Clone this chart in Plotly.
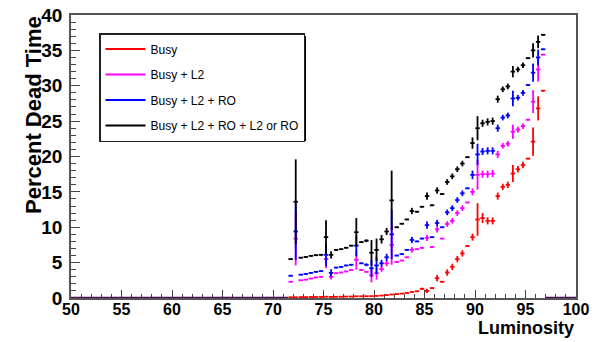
import plotly.graph_objects as go

# ---------------- data ----------------
lum = [71.75, 72.25, 72.75, 73.25, 73.75, 74.25, 74.75, 75.25, 75.75, 76.25,
       76.75, 77.25, 77.75, 78.25, 78.75, 79.25, 79.75, 80.25, 80.75, 81.25,
       81.75, 82.25, 82.75, 83.25, 83.75, 84.25, 84.75, 85.25, 85.75, 86.25,
       86.75, 87.25, 87.75, 88.25, 88.75, 89.25, 89.75, 90.25, 90.75, 91.25,
       91.75, 92.25, 92.75, 93.25, 93.75, 94.25, 94.75, 95.25, 95.75, 96.25,
       96.75]
bin_half_width = 0.25
hist_range = [50, 100]

busy = [0.10, 0.10, 0.12, 0.12, 0.14, 0.15, 0.15, 0.18, 0.16, 0.17,
        0.18, 0.20, 0.20, 0.24, 0.24, 0.25, 0.26, 0.30, 0.35, 0.42,
        0.50, 0.55, 0.62, 0.70, 0.85, 0.95, 1.3, 1.0, 1.4, 2.8,
        2.3, 3.6, 4.4, 5.5, 6.3, 7.35, 8.6, 11.1, 11.3, 10.9,
        10.9, 14.4, 15.7, 16.0, 17.6, 18.2, 18.8, 19.7, 22.1, 26.8,
        29.3]
busy_err = [0.05, 0.05, 0.05, 0.05, 0.05, 0.05, 0.05, 0.05, 0.05, 0.05,
            0.05, 0.05, 0.05, 0.05, 0.05, 0.05, 0.05, 0.05, 0.05, 0.05,
            0.05, 0.05, 0.05, 0.05, 0.05, 0.05, 0.15, 0.3, 0.1, 0.45,
            0.1, 0.45, 0.45, 0.45, 0.45, 0.1, 0.5, 2.3, 0.7, 0.5,
            0.5, 0.5, 0.45, 0.45, 1.2, 0.45, 0.45, 0.1, 2.0, 1.7,
            0.1]

busy_l2 = [2.3, 8.4, 2.5, 2.6, 2.75, 2.9, 3.0, 5.5, 3.0, 3.5,
           3.6, 3.75, 3.95, 5.4, 3.95, 3.7, 3.2, 3.5, 4.1, 4.9,
           7.5, 5.1, 5.3, 5.75, 6.8, 6.9, 7.1, 8.5, 7.2, 9.7,
           8.4, 10.46, 10.9, 12.0, 12.7, 13.5, 15.0, 17.4, 17.5, 17.5,
           17.6, 20.3, 21.5, 21.8, 23.5, 23.8, 24.3, 25.2, 27.75, 32.3,
           34.4]
busy_l2_err = [0.1, 3.8, 0.1, 0.1, 0.1, 0.1, 0.1, 1.3, 0.4, 0.1,
               0.1, 0.1, 0.1, 1.4, 0.1, 0.1, 1.0, 0.9, 0.4, 0.4,
               2.8, 0.1, 0.1, 0.1, 0.4, 0.1, 0.1, 0.45, 0.1, 0.45,
               0.1, 0.4, 0.4, 0.4, 0.4, 0.1, 0.5, 2.1, 0.5, 0.5,
               0.5, 0.5, 0.4, 0.4, 1.0, 0.4, 0.4, 0.1, 1.6, 1.7,
               0.1]

busy_l2_ro = [3.15, 9.4, 3.3, 3.4, 3.55, 3.7, 3.8, 6.1, 3.55, 4.3,
              4.4, 4.6, 4.7, 7.4, 4.9, 4.7, 4.2, 4.6, 4.9, 5.75,
              9.0, 6.0, 6.2, 6.8, 8.2, 8.0, 8.4, 10.3, 8.6, 10.6,
              10.0, 12.1, 12.7, 13.85, 14.8, 15.5, 17.4, 20.3, 20.7, 20.8,
              20.8, 24.0, 25.5, 25.8, 28.2, 28.3, 29.0, 30.1, 31.85, 34.0,
              35.15]
busy_l2_ro_err = [0.1, 4.0, 0.1, 0.1, 0.1, 0.1, 0.1, 1.6, 0.5, 0.1,
                  0.1, 0.1, 0.1, 1.5, 0.1, 0.2, 1.2, 1.2, 0.5, 0.5,
                  3.5, 0.1, 0.1, 0.1, 0.45, 0.1, 0.1, 0.5, 0.1, 0.45,
                  0.1, 0.4, 0.4, 0.4, 0.4, 0.1, 0.6, 1.5, 0.5, 0.5,
                  0.5, 0.5, 0.4, 0.4, 1.1, 0.4, 0.4, 0.1, 1.3, 1.1,
                  0.1]

busy_all = [5.5, 13.6, 5.7, 5.8, 5.95, 6.05, 6.1, 8.6, 6.1, 6.8,
            6.9, 7.1, 7.4, 9.3, 7.9, 8.1, 6.4, 6.8, 8.3, 9.4,
            13.8, 10.0, 10.5, 11.1, 12.3, 12.2, 12.9, 14.4, 13.1, 15.2,
            14.7, 16.4, 17.2, 18.2, 19.0, 19.9, 21.9, 24.0, 24.7, 24.9,
            25.0, 28.1, 29.5, 29.9, 32.0, 32.3, 32.9, 33.9, 35.0, 36.2,
            37.2]
busy_all_err = [0.1, 6.0, 0.1, 0.1, 0.1, 0.1, 0.1, 2.4, 0.5, 0.1,
                0.1, 0.1, 0.1, 2.0, 0.1, 0.2, 1.8, 1.6, 0.6, 0.5,
                4.2, 0.1, 0.1, 0.1, 0.45, 0.1, 0.1, 0.5, 0.1, 0.45,
                0.1, 0.4, 0.4, 0.4, 0.4, 0.1, 0.8, 1.7, 0.5, 0.5,
                0.5, 0.5, 0.4, 0.4, 0.8, 0.4, 0.4, 0.1, 1.0, 0.9,
                0.1]

series_names = ["Busy", "Busy + L2", "Busy + L2 + RO", "Busy + L2 + RO + L2 or RO"]
series_values = [busy, busy_l2, busy_l2_ro, busy_all]
series_errors = [busy_err, busy_l2_err, busy_l2_ro_err, busy_all_err]
series_colors = ["#ff0000", "#ff00ff", "#0000ff", "#000000"]

x_ticks = [50, 55, 60, 65, 70, 75, 80, 85, 90, 95, 100]
y_ticks = [0, 5, 10, 15, 20, 25, 30, 35, 40]

FONT = "Liberation Sans, Arial, sans-serif"

fig = go.Figure()

# empty histogram bins drawn at zero
lo_edge = lum[0] - bin_half_width
hi_edge = lum[-1] + bin_half_width
fig.add_trace(go.Scatter(
    x=[hist_range[0], lo_edge, None, hi_edge, hist_range[1]],
    y=[0, 0, None, 0, 0],
    mode="lines", line=dict(color="#4b0a55", width=2.5),
    showlegend=False, hoverinfo="skip"))

for name, vals, errs, col in zip(series_names, series_values, series_errors, series_colors):
    fig.add_trace(go.Scatter(
        x=lum, y=vals, mode="markers",
        marker=dict(size=1, color=col),
        error_x=dict(type="constant", value=bin_half_width - 0.03, color=col,
                     thickness=1.8, width=0),
        error_y=dict(type="data", array=errs, visible=True, color=col,
                     thickness=1.8, width=0),
        showlegend=False, name=name))

# legend entries
for i, (name, col) in enumerate(zip(series_names, series_colors)):
    fig.add_trace(go.Scatter(
        x=[None], y=[None], mode="lines", name=name,
        line=dict(color=col, width=2), legendgroup=f"g{i}", showlegend=True))

W, H = 600, 342
L, R, T, B = 71, 24, 15, 44
pw, ph = W - L - R, H - T - B


def px2paper_x(px):
    return (px - L) / pw


def px2paper_y(py):
    return (H - B - py) / ph


# legend shadow
fig.add_shape(type="rect", xref="paper", yref="paper",
              x0=px2paper_x(103), x1=px2paper_x(306),
              y0=px2paper_y(141), y1=px2paper_y(36),
              fillcolor="black", line=dict(width=0), layer="above")

fig.update_layout(
    template="none",
    width=W, height=H,
    margin=dict(l=L, r=R, t=T, b=B, pad=0, autoexpand=False),
    paper_bgcolor="white", plot_bgcolor="white",
    font=dict(family=FONT, color="black"),
    showlegend=True,
    legend=dict(x=px2paper_x(99), y=px2paper_y(33), xanchor="left", yanchor="top",
                bgcolor="white", bordercolor="#222222", borderwidth=1.5,
                font=dict(family=FONT, size=12, color="black"),
                tracegroupgap=6.5, itemwidth=40, traceorder="grouped"),
    xaxis=dict(range=[50, 100], tickvals=x_ticks, ticktext=[str(v) for v in x_ticks],
               automargin=False,
               ticks="inside", ticklen=8, tickwidth=1, tickcolor="#444444",
               minor=dict(dtick=1, ticks="inside", ticklen=4, tickcolor="#444444", tickwidth=1),
               showline=True, linecolor="#555555", linewidth=1.5, mirror=True,
               showgrid=False, zeroline=False, layer="below traces",
               ticklabelstandoff=-4,
               tickfont=dict(family=FONT, size=16, color="black", weight="bold")),
    yaxis=dict(range=[0, 40], tickvals=y_ticks, ticktext=[str(v) for v in y_ticks],
               automargin=False,
               ticks="inside", ticklen=9, tickwidth=1, tickcolor="#444444",
               minor=dict(dtick=1, ticks="inside", ticklen=5, tickcolor="#444444", tickwidth=1),
               showline=True, linecolor="#555555", linewidth=1.5, mirror=True,
               showgrid=False, zeroline=False, layer="below traces",
               ticklabelstandoff=3,
               tickfont=dict(family=FONT, size=19, color="black", weight="bold")),
    annotations=[
        dict(text="Percent Dead Time", xref="paper", yref="paper",
             x=px2paper_x(33), y=px2paper_y(14), xanchor="center", yanchor="top",
             textangle=-90, showarrow=False,
             font=dict(family=FONT, size=22, color="black", weight="bold")),
        dict(text="Luminosity", xref="paper", yref="paper",
             x=px2paper_x(576), y=px2paper_y(328), xanchor="right", yanchor="middle",
             showarrow=False,
             font=dict(family=FONT, size=18, color="black", weight="bold")),
    ],
)

fig.write_html("out.html",
               config={"displayModeBar": False},
               post_script="document.body.style.margin='0px';document.body.style.overflow='hidden';")
